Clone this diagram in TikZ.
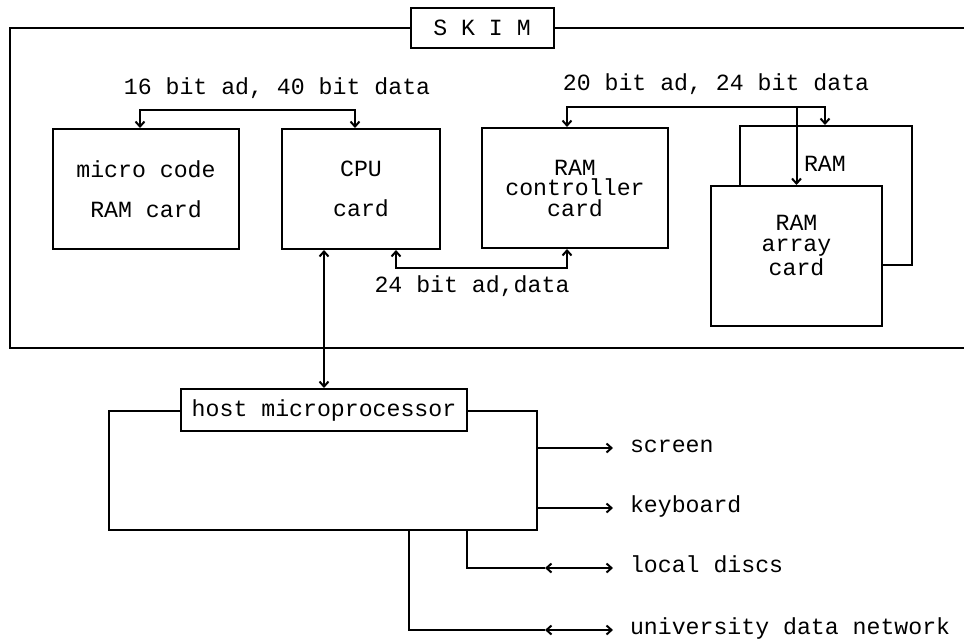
\documentclass[tikz,border=0pt]{standalone}
\usepackage{fontspec}
\setmonofont{Liberation Mono}
\usetikzlibrary{arrows.meta,positioning}

\begin{document}
\begin{tikzpicture}[
  x=0.5pt, y=-0.5pt,
  >={Straight Barb[length=2.5pt,width=4.5pt]},
  line width=1pt,
  font=\ttfamily\fontsize{11.6pt}{10.25pt}\selectfont,
  card/.style={draw, fill=white, align=center, inner sep=0pt, minimum height=60pt},
  tag/.style={draw, fill=white, inner sep=0pt},
  dev/.style={anchor=mid west, inner sep=0pt, xshift=8pt}
]
  \useasboundingbox (0,0) rectangle (964,638);
  % SKIM frame
  \coordinate (frameTL) at (10,28);
  \coordinate (frameBL) at (10,348);
  \draw (980,28) -- (frameTL) -- (frameBL) -- (980,348);
  \node[tag, minimum width=71.5pt, minimum height=20pt] (skim) at (482,28) {S K I M};

  % cards
  \node[card, minimum width=93pt] (mcode) at (146,189) {micro code\\[9.5pt]RAM card};
  \node[card, minimum width=79pt] (cpu) at (361,189) {CPU\\[9.5pt]card};
  \node[card, minimum width=93pt] (ramctl) at (575,188) {RAM\\controller\\card};
  \node[card, minimum width=86pt, minimum height=69.5pt] (ramback) at (826,195.5) {};
  \node[card, minimum width=85.5pt, minimum height=70pt,
        label={[align=center, anchor=north, yshift=-11.5pt]north:RAM\\array\\card}] (ramfront) at (796.5,256) {};

  % buses
  \coordinate (bus16L) at (140,110);
  \coordinate (bus16R) at (355,110);
  \draw[<->] (bus16L |- mcode.north) -- (bus16L) -- (bus16R) -- (bus16R |- cpu.north);
  \node (lbl16) at (277,88) {16 bit ad, 40 bit data};

  \coordinate (bus20L) at (567,107);
  \coordinate (bus20R) at (825,107);
  \coordinate (bus20T) at (796.5,107);
  \draw[<->] (bus20L |- ramctl.north) -- (bus20L) -- (bus20R) -- (bus20R |- ramback.north);
  \draw[->] (bus20T) -- (ramfront.north);
  \node (lbl20) at (716,84) {20 bit ad, 24 bit data};
  \node[anchor=west, inner sep=0pt] (lblram) at (803,164) {RAM};

  \coordinate (bus24L) at (396,268);
  \coordinate (bus24R) at (567,268);
  \draw[<->] (bus24L |- cpu.south) -- (bus24L) -- (bus24R) -- (bus24R |- ramctl.south);
  \node (lbl24) at (472,286) {24 bit ad,data};

  % host
  \node[draw, minimum width=214pt, minimum height=59.5pt] (hostbox) at (323,470.5) {};
  \node[tag, minimum width=143pt, minimum height=21pt] (hostlbl) at (324,410) {host microprocessor};
  \draw[<->] (hostlbl.north) -- (hostlbl.north |- cpu.south);

  \coordinate (scr) at (613,448);
  \coordinate (kbd) at (613,508);
  \draw[->] (scr -| hostbox.east) -- (scr) node[dev] (lblscr) {screen};
  \draw[->] (kbd -| hostbox.east) -- (kbd) node[dev] (lblkbd) {keyboard};

  \coordinate (discA) at (467,568);
  \coordinate (discB) at (545,568);
  \coordinate (discC) at (613,568);
  \draw (discA |- hostbox.south) -- (discA) -- (discB);
  \draw[<->] (discB) -- (discC) node[dev] (lbldisc) {local discs};

  \coordinate (netA) at (409,630);
  \coordinate (netB) at (545,630);
  \coordinate (netC) at (613,630);
  \draw (netA |- hostbox.south) -- (netA) -- (netB);
  \draw[<->] (netB) -- (netC) node[dev] (lblnet) {university data network};
\end{tikzpicture}
\end{document}
